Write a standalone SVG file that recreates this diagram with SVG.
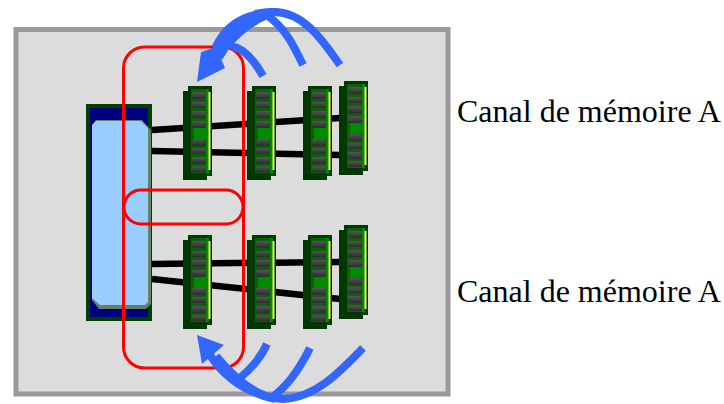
<svg xmlns="http://www.w3.org/2000/svg" xmlns:xlink="http://www.w3.org/1999/xlink" width="724" height="404" viewBox="0 0 724 404">
<style>
.wire{stroke:#000;stroke-width:6.5;fill:none}
.red{fill:none;stroke:#f00;stroke-width:3}
.flow{fill:none;stroke:#3366ff;stroke-width:8}
.head{fill:#3366ff}
.label{font-family:"Liberation Serif","Times New Roman",serif;font-size:32px;fill:#000}
.chip{fill:url(#chipfill)}
</style>
<defs>
<linearGradient id="chipfill" x1="0" y1="0" x2="0" y2="1"><stop offset="0" stop-color="#555"/><stop offset="1" stop-color="#2c2c2c"/></linearGradient>
<filter id="soft" x="-5%" y="-5%" width="110%" height="110%"><feGaussianBlur stdDeviation="0.6"/></filter>
<g id="dimm">
<rect x="0" y="5" width="24" height="89" fill="#033803"/>
<rect x="5" y="0" width="24" height="90" fill="#033803"/>
<rect x="8" y="3" width="18" height="84" fill="#075f07"/>
<rect x="11" y="42" width="14" height="11" fill="#008a00"/>
<rect x="23" y="3" width="3" height="84" fill="#008a00"/>
<rect x="25.500" y="6" width="2" height="78" fill="#e8f060"/>
<rect class="chip" x="9.500" y="6" width="13" height="7"/>
<rect class="chip" x="9.500" y="16" width="13" height="6"/>
<rect class="chip" x="9.500" y="25" width="13" height="7"/>
<rect class="chip" x="9.500" y="35" width="13" height="7"/>
<rect class="chip" x="9.500" y="53" width="13" height="7"/>
<rect class="chip" x="9.500" y="62" width="13" height="6"/>
<rect class="chip" x="9.500" y="71" width="13" height="7"/>
<rect class="chip" x="9.500" y="80" width="13" height="6"/>
</g>
</defs>
<g id="frame"><rect x="16" y="29.500" width="432" height="364.500" fill="#dcdcdc" stroke="#999" stroke-width="5"/></g>
<g id="connectors" filter="url(#soft)">
<path class="wire" d="M152 130L340 118"/>
<path class="wire" d="M152 151L340 155"/>
<path class="wire" d="M152 264L340 262"/>
<path class="wire" d="M152 279L340 299"/>
</g>
<g id="controller" filter="url(#soft)">
<rect x="86" y="104" width="66" height="217" fill="#063f06"/>
<rect x="90" y="108" width="58" height="209" fill="#00007f"/>
<path d="M92 125L96 120H142L151 130V304L146 309H99L92 300Z" fill="#668066"/>
<path d="M92 125L96 121H141L148 128V302L145 305H100L92 298Z" fill="#99ccff"/>
</g>
<g id="channel-a-upper" filter="url(#soft)">
<use xlink:href="#dimm" href="#dimm" x="183" y="86"/>
<use xlink:href="#dimm" href="#dimm" x="247" y="86"/>
<use xlink:href="#dimm" href="#dimm" x="303" y="86"/>
<use xlink:href="#dimm" href="#dimm" x="339" y="81"/>
</g>
<g id="channel-a-lower" filter="url(#soft)">
<use xlink:href="#dimm" href="#dimm" x="183" y="235"/>
<use xlink:href="#dimm" href="#dimm" x="247" y="235"/>
<use xlink:href="#dimm" href="#dimm" x="303" y="235"/>
<use xlink:href="#dimm" href="#dimm" x="339" y="225"/>
</g>
<g id="highlight" filter="url(#soft)">
<rect class="red" x="123.500" y="47" width="120" height="321" rx="21"/>
<rect class="red" x="124" y="190" width="119" height="34" rx="17"/>
</g>
<g id="flows" filter="url(#soft)">
<path class="flow" d="M263 76C254 60 244 48 231 46"/>
<path class="flow" d="M303 65C294 46 285 28 268 16"/>
<path class="flow" d="M340 65C326 46 306 12 274 12C266 12 260 13 255 14"/>
<path class="head" d="M212 46C224 20 245 9 277 8L268 19C252 26 240 36 229 49L222 60Z"/>
<path class="head" d="M197 82L201 52L216 47L225 68Z"/>
<path class="flow" d="M267 344C262 355 254 366 241 377"/>
<path class="flow" d="M310 348C303 362 290 385 271 398"/>
<path class="flow" d="M363 348C340 372 315 398 283 399C262 399 240 385 216 356"/>
<path class="flow" d="M210 355C224 377 245 392 275 399"/>
<path class="head" d="M197 335L224 345L202 364Z"/>
</g>
<g id="labels">
<text class="label" x="457" y="122">Canal de mémoire A</text>
<text class="label" x="457" y="301.500">Canal de mémoire A</text>
</g>
</svg>
